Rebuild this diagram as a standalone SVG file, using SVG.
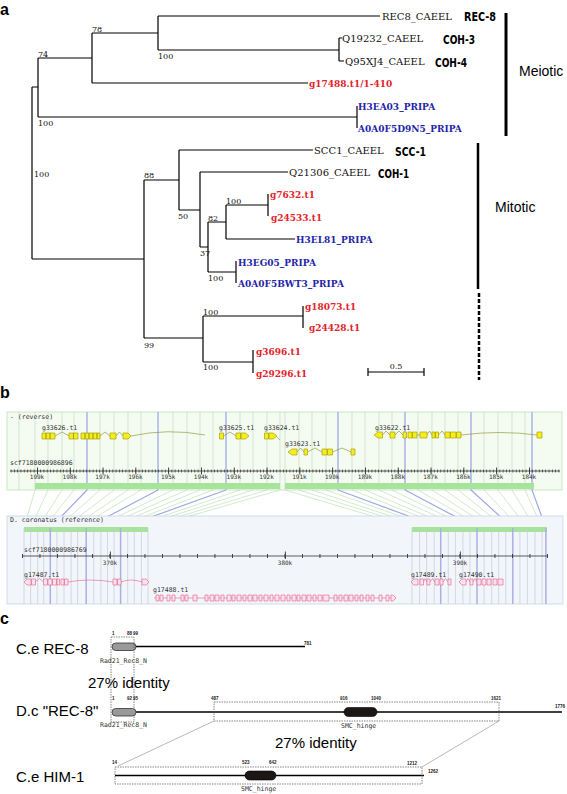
<svg xmlns="http://www.w3.org/2000/svg" width="567" height="794" viewBox="0 0 567 794">
<style>
.pl{font-family:"Liberation Sans",Arial,sans-serif;font-weight:bold;font-size:16px;fill:#000}
.lf{font-family:"DejaVu Serif","Liberation Serif",serif;font-size:10px;fill:#111}
.lr{font-family:"DejaVu Serif","Liberation Serif",serif;font-size:9px;font-weight:bold;fill:#e3232b}
.lb{font-family:"DejaVu Serif","Liberation Serif",serif;font-size:9px;font-weight:bold;fill:#2525a8}
.gn{font-family:"DejaVu Sans Condensed","DejaVu Sans",sans-serif;font-size:13px;font-weight:bold;fill:#000}
.bs{font-family:"DejaVu Serif","Liberation Serif",serif;font-size:8px;fill:#111}
.grp{font-family:"Liberation Sans",Arial,sans-serif;font-size:14px;fill:#000}
.mono{font-family:"DejaVu Sans Mono","Liberation Mono",monospace;font-size:6.5px;fill:#333}
.ax{font-family:"DejaVu Sans Mono","Liberation Mono",monospace;font-size:6px;fill:#333}
.edge{fill:none;stroke:#000;stroke-width:1.2}
.ex{fill:#f6ee1c;stroke:#9a9400;stroke-width:0.6}
.in{fill:none;stroke:#8a8a20;stroke-width:0.6}
.pex{fill:#ffe2ec;stroke:#e0608c;stroke-width:0.6}
.pin{fill:none;stroke:#e0608c;stroke-width:0.6}
.big{font-family:"Liberation Sans",Arial,sans-serif;font-size:15px;fill:#000}
.tiny{font-family:"Liberation Sans",Arial,sans-serif;font-size:4.5px;font-weight:bold;fill:#222}
.dom{font-family:"DejaVu Sans Mono","Liberation Mono",monospace;font-size:6.5px;fill:#333}
.dash{fill:none;stroke:#555;stroke-width:0.7;stroke-dasharray:1.5 1}
</style>
<rect width="567" height="794" fill="#fff"/>

<!-- Panel a -->
<g id="panel-a">
<text class="pl" x="0" y="15">a</text>
<g id="tree-edges">
<path class="edge" d="M32 87V259M32 87H38M32 259H144
M38 58V117M38 58H92M38 117H357
M92 33V83M92 33H158M92 83H308
M158 16V50M158 16H380M158 50H339
M339 38V61M339 38H342M339 61H344
M357 106V128
M144 180V338M144 180H179M144 338H203
M179 150V210M179 150H313M179 210H200
M200 172V247M200 172H288M200 247H208
M208 222V272M208 222H226M208 272H236
M226 205V239M226 205H268M226 239H295
M268 194V216
M236 261V283
M203 316V362M203 316H303M203 362H253
M303 306V328
M253 350V373"/>
</g>
<g id="bootstrap">
<text class="bs" x="92" y="32">78</text>
<text class="bs" x="38" y="57">74</text>
<text class="bs" x="158" y="59">100</text>
<text class="bs" x="38" y="126">100</text>
<text class="bs" x="34" y="177">100</text>
<text class="bs" x="144" y="178">88</text>
<text class="bs" x="178" y="219">50</text>
<text class="bs" x="226" y="204">100</text>
<text class="bs" x="208" y="221">82</text>
<text class="bs" x="200" y="256">37</text>
<text class="bs" x="208" y="281">100</text>
<text class="bs" x="203" y="315">100</text>
<text class="bs" x="144" y="348">99</text>
<text class="bs" x="203" y="370">100</text>
</g>
<g id="leaf-rec8"><text class="lf" x="382" y="20">REC8_CAEEL</text><text class="gn" x="464" y="21" textLength="32" lengthAdjust="spacingAndGlyphs">REC-8</text></g>
<g id="leaf-q19232"><text class="lf" x="342" y="42">Q19232_CAEEL</text><text class="gn" x="443" y="44" textLength="32" lengthAdjust="spacingAndGlyphs">COH-3</text></g>
<g id="leaf-q95xj4"><text class="lf" x="345" y="65">Q95XJ4_CAEEL</text><text class="gn" x="435" y="67" textLength="32" lengthAdjust="spacingAndGlyphs">COH-4</text></g>
<g id="leaf-g17488"><text class="lr" x="309" y="87">g17488.t1/1-410</text></g>
<g id="leaf-h3ea03"><text class="lb" x="358" y="110">H3EA03_PRIPA</text></g>
<g id="leaf-a0a0f5d9n5"><text class="lb" x="358" y="132">A0A0F5D9N5_PRIPA</text></g>
<g id="leaf-scc1"><text class="lf" x="314" y="154">SCC1_CAEEL</text><text class="gn" x="395" y="156" textLength="31" lengthAdjust="spacingAndGlyphs">SCC-1</text></g>
<g id="leaf-q21306"><text class="lf" x="289" y="176">Q21306_CAEEL</text><text class="gn" x="378" y="178" textLength="31" lengthAdjust="spacingAndGlyphs">COH-1</text></g>
<g id="leaf-g7632"><text class="lr" x="270" y="198">g7632.t1</text></g>
<g id="leaf-g24533"><text class="lr" x="271" y="221">g24533.t1</text></g>
<g id="leaf-h3el81"><text class="lb" x="296" y="243">H3EL81_PRIPA</text></g>
<g id="leaf-h3eg05"><text class="lb" x="238" y="266">H3EG05_PRIPA</text></g>
<g id="leaf-a0a0f5bwt3"><text class="lb" x="238" y="287">A0A0F5BWT3_PRIPA</text></g>
<g id="leaf-g18073"><text class="lr" x="305" y="310">g18073.t1</text></g>
<g id="leaf-g24428"><text class="lr" x="309" y="331">g24428.t1</text></g>
<g id="leaf-g3696"><text class="lr" x="256" y="355">g3696.t1</text></g>
<g id="leaf-g29296"><text class="lr" x="256" y="377">g29296.t1</text></g>
<g id="scale-bar">
<path class="edge" d="M368 372H424M368 368V376M424 368V376"/>
<text class="bs" x="396" y="369" text-anchor="middle">0.5</text>
</g>
<g id="group-meiotic">
<line x1="506" y1="13" x2="506" y2="136" stroke="#000" stroke-width="3"/>
<text class="grp" x="519" y="76">Meiotic</text>
</g>
<g id="group-mitotic">
<line x1="478" y1="143" x2="478" y2="289" stroke="#000" stroke-width="2.5"/>
<line x1="479" y1="293" x2="479" y2="380" stroke="#000" stroke-width="2.5" stroke-dasharray="4 2"/>
<text class="grp" x="495" y="212">Mitotic</text>
</g>
</g>

<!-- Panel b -->
<g id="panel-b">
<text class="pl" x="0" y="398">b</text>
<g id="track-reverse">
<rect x="7" y="412" width="555" height="78" fill="#f4fbf1" stroke="#bfe0b8" stroke-width="0.8"/>
<path fill="none" stroke="#c6dcbe" stroke-width="0.7" d="M35 412V490M48 412V490M62 412V490M74 412V490M100 412V490M114 412V490M128 412V490M141 412V490M173 412V490M187 412V490M200 412V490M213 412V490M240 412V490M253 412V490M267 412V490M280 412V490M285 412V490M299 412V490M312 412V490M326 412V490M352 412V490M365 412V490M379 412V490M392 412V490M418 412V490M432 412V490M445 412V490M458 412V490M484 412V490M498 412V490M512 412V490M525 412V490M19 412V490"/>
<path fill="none" stroke="#aab4e6" stroke-width="1.5" d="M87 412V490M158 412V490M226 412V490M338 412V490M405 412V490M471 412V490M532 412V490"/>
<text class="mono" x="10" y="419">- (reverse)</text>
<text class="mono" x="10" y="465">scf7180000986896</text>
<line x1="10" y1="471" x2="560" y2="471" stroke="#333" stroke-width="0.8"/>
<line x1="10.76" y1="471" x2="560" y2="471" stroke="#333" stroke-width="3" stroke-dasharray="0.7 2.58"/>
<line x1="37" y1="471" x2="560" y2="471" stroke="#333" stroke-width="7" stroke-dasharray="0.9 31.9"/>
<g class="ax" text-anchor="middle">
<text x="37" y="479">199k</text><text x="69.8" y="479">198k</text><text x="102.6" y="479">197k</text><text x="135.4" y="479">196k</text><text x="168.2" y="479">195k</text><text x="201" y="479">194k</text><text x="233.8" y="479">193k</text><text x="266.6" y="479">192k</text><text x="299.4" y="479">191k</text><text x="332.2" y="479">190k</text><text x="365" y="479">189k</text><text x="397.8" y="479">188k</text><text x="430.6" y="479">187k</text><text x="463.4" y="479">186k</text><text x="496.2" y="479">185k</text><text x="529" y="479">184k</text>
</g>
<rect x="35" y="483" width="245" height="6" fill="#a6e49c"/>
<rect x="285" y="483" width="249" height="6" fill="#a6e49c"/>
</g>
<g id="gene-g33626">
<text class="mono" x="42" y="430">g33626.t1</text>
<path class="in" d="M55 436L62 432L69 436M100 436L105 432L110 436M116 436L119.5 432L123 436M131 436Q168 428 205 435"/>
<path class="ex" d="M42 433h4v6h-4zM46 433h4v6h-4zM50 433h5v6h-5zM69 433h4.5v6h-4.5zM73.5 433h4.5v6h-4.5zM81 433h4v6h-4zM85 433h4v6h-4zM89 433h4v6h-4zM93 433h4v6h-4zM97 433h3v6h-3zM110 433h6v6h-6zM123 433h5l3 3l-3 3h-5z"/>
</g>
<g id="gene-g33625">
<text class="mono" x="219" y="430">g33625.t1</text>
<path class="in" d="M223.5 436L230 432L236 436"/>
<path class="ex" d="M219.5 433h4v6h-4zM236 433h4.5v6h-4.5zM241 433h4.5l3.5 3l-3.5 3h-4.5z"/>
</g>
<g id="gene-g33624">
<text class="mono" x="264" y="430">g33624.t1</text>
<path class="in" d="M277 437L280 440"/>
<path class="ex" d="M264.5 433h4v6h-4zM269 433h4l4 3l-4 3h-4z"/>
</g>
<g id="gene-g33623">
<text class="mono" x="285" y="446">g33623.t1</text>
<path class="in" d="M297 452L300.5 448L304 452M307.5 452L315 448L322 452M332.5 452L342 448L351 452"/>
<path class="ex" d="M292 449h5v6h-5l-4 -3zM304 449h3.5v6h-3.5zM322 449h5v6h-5zM327.5 449h5v6h-5zM351 449h4v6h-4z"/>
</g>
<g id="gene-g33622">
<text class="mono" x="375" y="430">g33622.t1</text>
<path class="in" d="M382.5 435L386 431L390 435M395 435L399 431L403 435M417 435L420 435M427 435L429.5 431L432 435M438.5 435L442 431L445 435M461 435Q500 430 537 435"/>
<path class="ex" d="M378 432h4.5v6h-4.5l-4 -3zM390 432h5v6h-5zM403 432h3.5v6h-3.5zM408 432h4v6h-4zM412.5 432h4.5v6h-4.5zM420 432h7v6h-7zM432 432h3v6h-3zM435.5 432h3v6h-3zM445 432h5v6h-5zM450.5 432h5.5v6h-5.5zM456.5 432h4.5v6h-4.5zM537 432h5v6h-5z"/>
</g>
<g id="synteny-connectors">
<path fill="none" stroke="#b4dcaa" stroke-width="0.6" d="M35 490L24 528M48 490L30.6 528M62 490L37.7 528M74 490L43.7 528M100 490L56.9 528M114 490L64 528M128 490L71.1 528M141 490L77.6 528M173 490L93.8 528M187 490L100.9 528M200 490L107.5 528M213 490L114.1 528M240 490L127.7 528M253 490L134.3 528M267 490L141.4 528M280 490L148 528M285 490L412 528M299 490L419.6 528M312 490L426.6 528M326 490L434.2 528M352 490L448.3 528M365 490L455.4 528M379 490L462.9 528M392 490L470 528M418 490L484.1 528M432 490L491.7 528M445 490L498.7 528M458 490L505.8 528M484 490L519.9 528M498 490L527.4 528M512 490L535 528M525 490L542.1 528"/>
<path fill="none" stroke="#9eaade" stroke-width="1.2" d="M87 490L50.3 528M158 490L86.2 528M226 490L120.6 528M338 490L440.7 528M405 490L477 528M471 490L512.8 528M532 490L545.9 528"/>
</g>
<g id="track-reference">
<rect x="7" y="516" width="556" height="88" fill="#f2f6fa" stroke="#c6d6e6" stroke-width="0.8"/>
<rect x="24" y="527" width="124" height="5" fill="#a6e49c"/>
<rect x="412" y="527" width="135" height="5" fill="#a6e49c"/>
<path fill="none" stroke="#c6ccd6" stroke-width="0.7" d="M24 528V604M30.6 528V604M37.7 528V604M43.7 528V604M56.9 528V604M64 528V604M71.1 528V604M77.6 528V604M93.8 528V604M100.9 528V604M107.5 528V604M114.1 528V604M127.7 528V604M134.3 528V604M141.4 528V604M148 528V604M412 528V604M419.6 528V604M426.6 528V604M434.2 528V604M448.3 528V604M455.4 528V604M462.9 528V604M470 528V604M484.1 528V604M491.7 528V604M498.7 528V604M505.8 528V604M519.9 528V604M527.4 528V604M535 528V604M542.1 528V604"/>
<path fill="none" stroke="#aab0e2" stroke-width="1.5" d="M50.3 528V604M86.2 528V604M120.6 528V604M440.7 528V604M477 528V604M512.8 528V604M545.9 528V604"/>
<text class="mono" x="10" y="522">D. coronatus (reference)</text>
<text class="mono" x="24" y="552">scf7180000986769</text>
<line x1="22.5" y1="556" x2="548" y2="556" stroke="#333" stroke-width="0.8"/>
<line x1="22" y1="556" x2="549" y2="556" stroke="#333" stroke-width="4" stroke-dasharray="0.9 16.6"/>
<path stroke="#333" stroke-width="0.9" d="M110.4 551.5V559M285.4 551.5V559M460.4 551.5V559"/>
<g class="ax" text-anchor="middle">
<text x="110" y="565">370k</text><text x="285" y="565">380k</text><text x="460" y="565">390k</text>
</g>
</g>
<g id="gene-g17487">
<text class="mono" x="24" y="577">g17487.t1</text>
<path class="pin" d="M35.5 582L39.5 578.5L43.5 582M68 582Q90 578 113 582M121 582Q131 578 142 582"/>
<path class="pex" d="M27 579h4v6h-4l-3 -3zM31.5 579h4v6h-4zM43.5 579h4v6h-4zM48 579h4v6h-4zM52.5 579h4v6h-4zM57 579h2.5v6h-2.5zM61 579h3v6h-3zM64.5 579h3.5v6h-3.5zM113 579h4v6h-4zM117.5 579h3.5v6h-3.5zM142 579h4l3 3l-3 3h-4z"/>
</g>
<g id="gene-g17488">
<text class="mono" x="153" y="592">g17488.t1</text>
<path class="pin" d="M154 598H394"/>
<path class="pex" d="M156 595h3v6h-3zM160 595h3v6h-3zM167 595h3v6h-3zM172 595h3v6h-3zM181 595h3v6h-3zM185 595h3v6h-3zM193 595h4v6h-4zM205 595h3v6h-3zM210 595h4v6h-4zM215 595h4v6h-4zM221 595h3v6h-3zM227 595h4v6h-4zM232 595h3v6h-3zM237 595h4v6h-4zM243 595h3v6h-3zM248 595h4v6h-4zM253 595h4v6h-4zM259 595h3v6h-3zM264 595h4v6h-4zM270 595h3v6h-3zM275 595h4v6h-4zM281 595h4v6h-4zM287 595h3v6h-3zM292 595h4v6h-4zM297 595h3v6h-3zM302 595h4v6h-4zM307 595h4v6h-4zM313 595h3v6h-3zM318 595h4v6h-4zM323 595h6v6h-6zM334 595h3v6h-3zM339 595h3v6h-3zM344 595h4v6h-4zM349 595h4v6h-4zM355 595h3v6h-3zM360 595h3v6h-3zM366 595h3v6h-3zM371 595h3v6h-3zM379 595h3v6h-3zM386 595h3v6h-3zM391 595h2l3 3l-3 3h-2z"/>
</g>
<g id="gene-g17489">
<text class="mono" x="411" y="577">g17489.t1</text>
<path class="pin" d="M423.5 582L425 578.5L427 582M430 582L432.5 578.5L435 582M443 582L445.5 578.5L448 582"/>
<path class="pex" d="M414 579h4v6h-4l-3 -3zM420 579h3.5v6h-3.5zM427 579h3v6h-3zM435 579h4v6h-4zM440 579h3v6h-3zM448 579h3v6h-3z"/>
</g>
<g id="gene-g17490">
<text class="mono" x="459" y="577">g17490.t1</text>
<path class="pin" d="M466 582L468 578.5L470 582M473 582L475 578.5L477 582"/>
<path class="pex" d="M462 579h4v6h-4l-3 -3zM470 579h3v6h-3zM477 579h4v6h-4zM482 579h4v6h-4zM487 579h4v6h-4zM493 579h4v6h-4zM498 579h5v6h-5z"/>
</g>
</g>

<!-- Panel c -->
<g id="panel-c">
<text class="pl" x="0" y="624">c</text>
<g id="protein-ce-rec8">
<text class="big" x="16" y="654">C.e REC-8</text>
<line x1="112" y1="646.5" x2="305" y2="646.5" stroke="#000" stroke-width="1.5"/>
<rect x="112" y="643" width="24" height="7.5" rx="3.7" fill="#9a9a9a" stroke="#333" stroke-width="0.8"/>
<text class="tiny" x="112" y="635">1</text><text class="tiny" x="127" y="635">88</text><text class="tiny" x="133" y="635">99</text>
<text class="tiny" x="304" y="645">781</text>
<text class="dom" x="100" y="663">Rad21_Rec8_N</text>
</g>
<rect class="dash" x="111" y="637" width="23" height="85"/>
<text class="big" x="88" y="688">27% identity</text>
<g id="protein-dc-rec8">
<text class="big" x="16" y="716">D.c "REC-8"</text>
<line x1="112" y1="712" x2="562" y2="712" stroke="#000" stroke-width="1.5"/>
<rect x="112" y="708.5" width="24" height="7.5" rx="3.7" fill="#9a9a9a" stroke="#333" stroke-width="0.8"/>
<rect x="344" y="707.5" width="33" height="9" rx="4.5" fill="#1c1714" stroke="#000" stroke-width="0.6"/>
<text class="tiny" x="112" y="700">1</text><text class="tiny" x="127" y="700">92</text><text class="tiny" x="133" y="700">95</text>
<text class="tiny" x="211" y="700">487</text><text class="tiny" x="340" y="700">916</text><text class="tiny" x="371" y="700">1040</text><text class="tiny" x="491" y="700">1621</text><text class="tiny" x="555" y="708">1776</text>
<text class="dom" x="100" y="727">Rad21_Rec8_N</text>
<text class="dom" x="341" y="728">SMC_hinge</text>
</g>
<rect class="dash" x="214" y="702" width="285" height="19"/>
<text class="big" x="275" y="748">27% identity</text>
<g id="connectors-c">
<line x1="214" y1="721" x2="118" y2="766" stroke="#888" stroke-width="0.6"/>
<line x1="499" y1="721" x2="422" y2="767" stroke="#888" stroke-width="0.6"/>
</g>
<g id="protein-ce-him1">
<text class="big" x="16" y="782">C.e HIM-1</text>
<line x1="115" y1="775.5" x2="424" y2="775.5" stroke="#000" stroke-width="1.5"/>
<rect x="245" y="771" width="31" height="9" rx="4.5" fill="#1c1714" stroke="#000" stroke-width="0.6"/>
<text class="tiny" x="112" y="764">14</text><text class="tiny" x="242" y="764">523</text><text class="tiny" x="269" y="764">642</text><text class="tiny" x="407" y="765">1212</text><text class="tiny" x="428" y="773">1262</text>
<text class="dom" x="241" y="791">SMC_hinge</text>
</g>
<rect class="dash" x="115" y="767" width="307" height="17"/>
</g>
</svg>
